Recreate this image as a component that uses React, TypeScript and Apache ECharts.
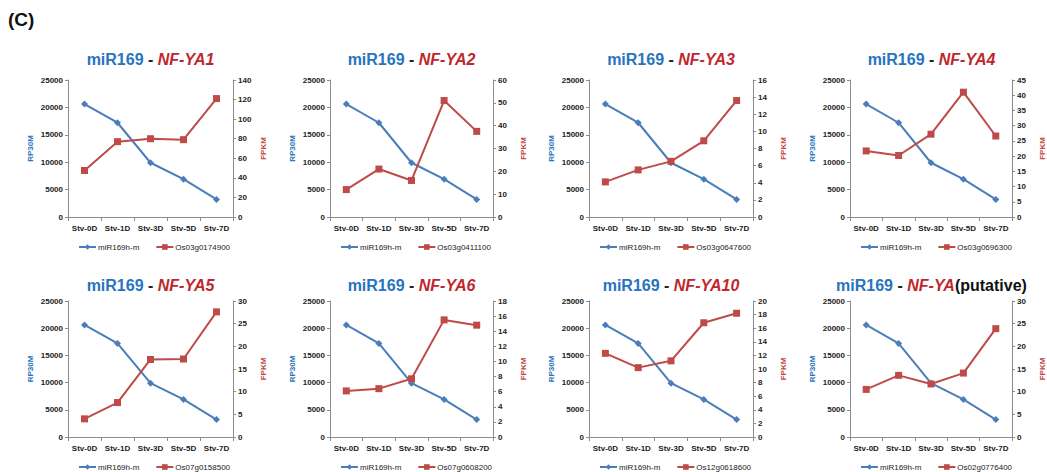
import React, { useEffect, useRef } from "react";
import * as echarts from "echarts";

const categories = ["Stv-0D", "Stv-1D", "Stv-3D", "Stv-5D", "Stv-7D"];
const mirName = "miR169h-m";
const mirValues = [20600, 17200, 9900, 6900, 3200];

const geneTitles = ["NF-YA1", "NF-YA2", "NF-YA3", "NF-YA4", "NF-YA5", "NF-YA6", "NF-YA10", "NF-YA"];
const geneSuffix = ["", "", "", "", "", "", "", "(putative)"];
const geneIds = [
  "Os03g0174900",
  "Os03g0411100",
  "Os03g0647600",
  "Os03g0696300",
  "Os07g0158500",
  "Os07g0608200",
  "Os12g0618600",
  "Os02g0776400",
];
const fpkm1 = [47.5, 77, 80, 79, 121];
const fpkm2 = [12, 21, 16, 51, 37.5];
const fpkm3 = [4.1, 5.5, 6.5, 8.9, 13.6];
const fpkm4 = [21.7, 20.2, 27.2, 41, 26.6];
const fpkm5 = [4, 7.6, 17.1, 17.2, 27.6];
const fpkm6 = [6.1, 6.4, 7.7, 15.5, 14.8];
const fpkm7 = [12.3, 10.2, 11.2, 16.8, 18.2];
const fpkm8 = [10.5, 13.6, 11.7, 14.1, 23.9];
const fpkmSeries = [fpkm1, fpkm2, fpkm3, fpkm4, fpkm5, fpkm6, fpkm7, fpkm8];
const fpkmMax = [140, 60, 16, 45, 30, 18, 20, 30];
const fpkmStep = [20, 10, 2, 5, 5, 2, 2, 5];
const rpMax = 25000;
const rpStep = 5000;

const BLUE = "#4A7EBB";
const RED = "#BE4B48";
const TITLE_BLUE = "#2873BE";
const TITLE_RED = "#C0272D";
const AXIS_GRAY = "#8C8C8C";
const FONT = "Liberation Sans, Arial, sans-serif";

const gridLefts = [68, 330, 589, 850];
const gridWidths = [165, 163, 164, 163];
const rowTops = [80, 301];
const rowHeights = [137, 136];
const titleY = [59, 285];
const legendTops = [243, 463];

export default function App() {
  const ref = useRef<HTMLDivElement>(null);
  useEffect(() => {
    if (!ref.current) return;
    const chart = echarts.init(ref.current, null, { renderer: "svg" });
    const grid: any[] = [];
    const xAxis: any[] = [];
    const yAxis: any[] = [];
    const series: any[] = [];
    const legend: any[] = [];
    const plain = (v: number) => String(v);
    const graphic: any[] = [
      {
        type: "text",
        left: 8,
        top: 10,
        style: { text: "(C)", font: `bold 19px ${FONT}`, fill: "#111" },
      },
    ];
    for (let i = 0; i < 8; i++) {
      const row = Math.floor(i / 4);
      const col = i % 4;
      const left = gridLefts[col];
      const width = gridWidths[col];
      grid.push({ left, top: rowTops[row], width, height: rowHeights[row] });
      xAxis.push({
        type: "category",
        gridIndex: i,
        data: categories,
        boundaryGap: true,
        axisLine: { lineStyle: { color: AXIS_GRAY, width: 1 } },
        axisTick: { show: true, length: 4, lineStyle: { color: AXIS_GRAY } },
        axisLabel: { color: "#222", fontSize: 8, fontWeight: "bold", fontFamily: FONT, margin: 7, interval: 0 },
        splitLine: { show: false },
      });
      yAxis.push({
        type: "value",
        gridIndex: i,
        min: 0,
        max: rpMax,
        interval: rpStep,
        position: "left",
        name: "RP30M",
        nameLocation: "middle",
        nameRotate: 90,
        nameGap: 34,
        nameTextStyle: { color: TITLE_BLUE, fontSize: 8, fontWeight: "bold", fontFamily: FONT },
        axisLine: { show: true, lineStyle: { color: AXIS_GRAY, width: 1 } },
        axisTick: { show: true, length: 3, lineStyle: { color: AXIS_GRAY } },
        axisLabel: { color: "#222", fontSize: 8, fontWeight: "bold", fontFamily: FONT, margin: 5, formatter: plain },
        splitLine: { show: false },
      });
      yAxis.push({
        type: "value",
        gridIndex: i,
        min: 0,
        max: fpkmMax[i],
        interval: fpkmStep[i],
        position: "right",
        name: "FPKM",
        nameLocation: "middle",
        nameRotate: 90,
        nameGap: 26,
        nameTextStyle: { color: RED, fontSize: 8, fontWeight: "bold", fontFamily: FONT },
        axisLine: { show: true, lineStyle: { color: AXIS_GRAY, width: 1 } },
        axisTick: { show: true, length: 3, lineStyle: { color: AXIS_GRAY } },
        axisLabel: { color: "#222", fontSize: 8, fontWeight: "bold", fontFamily: FONT, margin: 5, formatter: plain },
        splitLine: { show: false },
      });
      series.push({
        type: "line",
        name: mirName,
        xAxisIndex: i,
        yAxisIndex: i * 2,
        data: mirValues,
        symbol: "diamond",
        symbolSize: 7,
        itemStyle: { color: BLUE },
        lineStyle: { color: BLUE, width: 2 },
      });
      series.push({
        type: "line",
        name: geneIds[i],
        xAxisIndex: i,
        yAxisIndex: i * 2 + 1,
        data: fpkmSeries[i],
        symbol: "rect",
        symbolSize: 7,
        itemStyle: { color: RED },
        lineStyle: { color: RED, width: 2 },
      });
      legend.push({
        data: [mirName, geneIds[i]],
        left: left + 10,
        top: legendTops[row],
        itemWidth: 17,
        itemHeight: 7,
        itemGap: 16,
        selectedMode: false,
        textStyle: { color: "#222", fontSize: 8, fontFamily: FONT, padding: [0, 0, 0, -3] },
        padding: 0,
      });
      graphic.push({
        type: "text",
        x: left + width / 2,
        y: titleY[row],
        style: {
          text: `{b|miR169}{d| - }{r|${geneTitles[i]}}{k|${geneSuffix[i]}}`,
          align: "center",
          verticalAlign: "middle",
          rich: {
            b: { font: `bold 16px ${FONT}`, fill: TITLE_BLUE },
            d: { font: `bold 16px ${FONT}`, fill: "#222" },
            r: { font: `italic bold 16px ${FONT}`, fill: TITLE_RED },
            k: { font: `bold 16px ${FONT}`, fill: "#111" },
          },
        },
      });
    }
    chart.setOption({
      animation: false,
      backgroundColor: "#fff",
      grid,
      xAxis,
      yAxis,
      series,
      legend,
      graphic,
    });
    return () => chart.dispose();
  }, []);
  return (
    <div
      ref={ref}
      style={{ position: "fixed", left: 0, top: 0, width: 1047, height: 472, background: "#fff" }}
    />
  );
}
